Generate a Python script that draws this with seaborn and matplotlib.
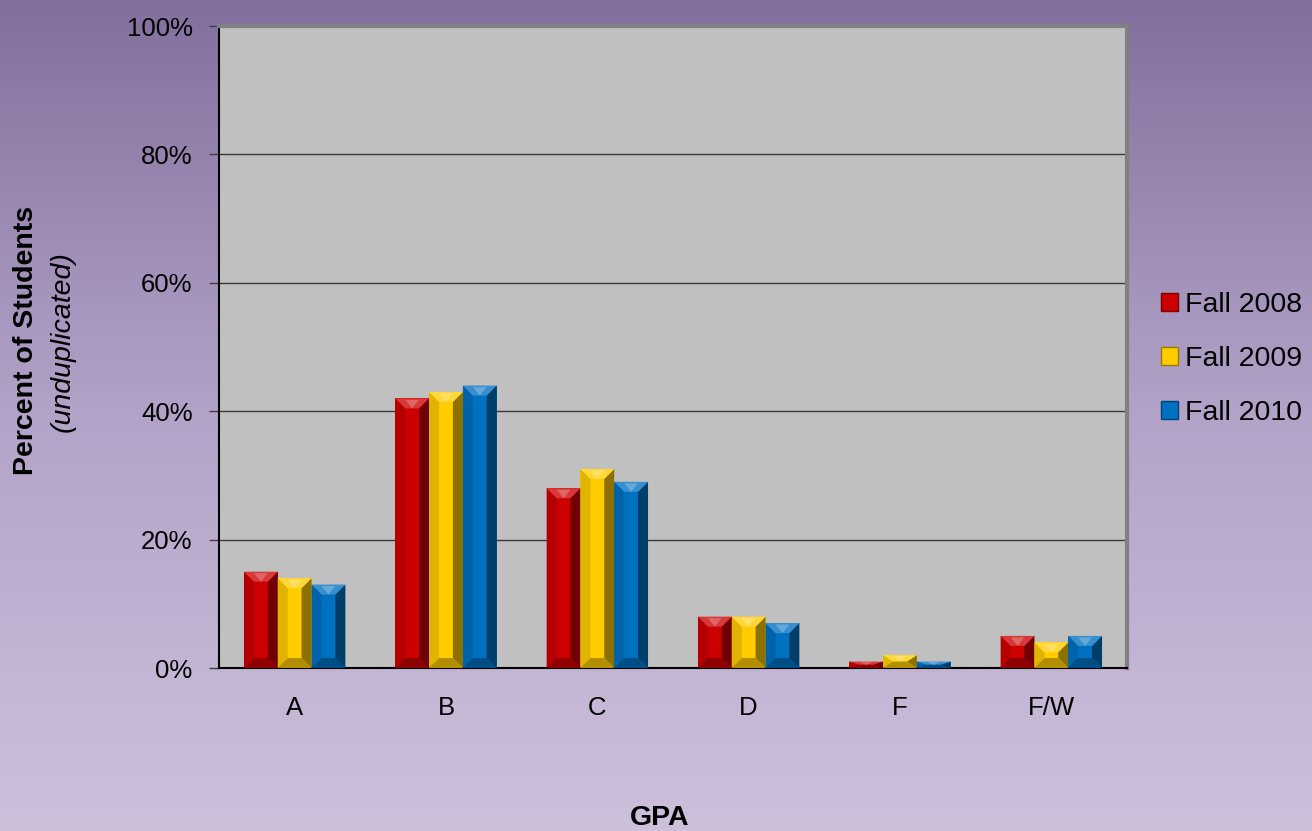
import numpy as np
import pandas as pd
import seaborn as sns
import matplotlib.pyplot as plt
from matplotlib.patches import Polygon, Patch
from matplotlib.colors import LinearSegmentedColormap, to_rgb

# data
grades = ['A', 'B', 'C', 'D', 'F', 'F/W']
terms = ['Fall 2008', 'Fall 2009', 'Fall 2010']
fall_2008 = [15, 42, 28, 8, 1, 5]
fall_2009 = [14, 43, 31, 8, 2, 4]
fall_2010 = [13, 44, 29, 7, 1, 5]
colors = ['#cc0000', '#ffcc00', '#0070c0']

df = pd.DataFrame({
    'GPA': grades * 3,
    'Term': np.repeat(terms, len(grades)),
    'Percent': fall_2008 + fall_2009 + fall_2010,
})

sns.set_theme(style='white')
plt.rcParams['font.family'] = ['Liberation Sans', 'DejaVu Sans']
plt.rcParams['text.color'] = 'black'
plt.rcParams['xtick.labelcolor'] = 'black'
plt.rcParams['ytick.labelcolor'] = 'black'

W, H = 1312, 831
fig = plt.figure(figsize=(W / 100, H / 100), dpi=100)

# purple gradient background
bg = fig.add_axes([0, 0, 1, 1], zorder=-10)
grad = np.linspace(0, 1, 256).reshape(-1, 1)
cmap = LinearSegmentedColormap.from_list('bg', ['#836f9d', '#b3a3c8', '#cdc0db'])
bg.imshow(grad, aspect='auto', cmap=cmap, extent=[0, 1, 0, 1])
bg.axis('off')

ax = fig.add_axes([219 / W, 1 - 668 / H, (1127 - 219) / W, (668 - 26) / H])
ax.set_facecolor('#c0c0c0')
sns.barplot(data=df, x='GPA', y='Percent', hue='Term', palette=colors,
            width=0.67, saturation=1, ax=ax, legend=False, linewidth=0, zorder=2)
ax.set_xlim(-0.5, 5.5)
ax.set_ylim(0, 100)
ax.set_axisbelow(True)
ax.yaxis.grid(True, color='#3a3a3a', lw=1)
ax.set_yticks([0, 20, 40, 60, 80, 100])
ax.set_yticklabels([f'{v}%' for v in [0, 20, 40, 60, 80, 100]])
ax.tick_params(axis='y', left=True, length=7, width=1, color='#404040',
               labelsize=18.5, pad=12)
ax.tick_params(axis='x', bottom=False, length=0, labelsize=18.5, pad=20)
ax.set_xlabel('')
ax.set_ylabel('')
for s in ['left', 'bottom']:
    ax.spines[s].set_color('black')
    ax.spines[s].set_linewidth(1.5)
for s in ['top', 'right']:
    ax.spines[s].set_color('#808080')
    ax.spines[s].set_linewidth(3)


def mix(c, other, t):
    c = np.array(to_rgb(c))
    o = np.array(to_rgb(other))
    return tuple(c * (1 - t) + o * t)


# bevel effect on each bar, sized from the bar geometry
px_x = 6 / ((1127 - 219))  # data units per pixel along x
px_y = 100 / (668 - 26)
bevel = 10
for patch in ax.patches:
    x0 = patch.get_x()
    w = patch.get_width()
    h = patch.get_height()
    if h <= 0:
        continue
    x1 = x0 + w
    c = patch.get_facecolor()
    bx = bevel * px_x
    by = min(bevel * px_y, h / 2)
    top = Polygon([(x0, h), (x1, h), (x1 - bx, h - by), (x0 + bx, h - by)],
                  closed=True, fc=mix(c, 'white', 0.22), ec='none', zorder=3)
    tri = Polygon([(x0 + w * 0.3, h - 0.15 * by), (x1 - w * 0.3, h - 0.15 * by),
                   (x0 + w / 2, h - by)],
                  closed=True, fc=mix(c, 'white', 0.4), ec='none', zorder=3)
    bot = Polygon([(x0, 0), (x1, 0), (x1 - bx, by), (x0 + bx, by)],
                  closed=True, fc=mix(c, 'black', 0.3), ec='none', zorder=3)
    left = Polygon([(x0, 0), (x0 + bx, by), (x0 + bx, h - by), (x0, h)],
                   closed=True, fc=mix(c, 'black', 0.12), ec='none', zorder=3)
    right = Polygon([(x1, 0), (x1 - bx, by), (x1 - bx, h - by), (x1, h)],
                    closed=True, fc=mix(c, 'black', 0.45), ec='none', zorder=3)
    for p in [left, right, top, bot, tri]:
        ax.add_patch(p)

# axis titles
fig.text(26 / W, 1 - 340 / H, 'Percent of Students', rotation=90, fontsize=20.5,
         fontweight='bold', ha='center', va='center')
fig.text(63 / W, 1 - 342 / H, '(unduplicated)', rotation=90, fontsize=20.5,
         fontstyle='italic', ha='center', va='center')
fig.text(660 / W, 1 - 818 / H, 'GPA', fontsize=20.5, fontweight='bold',
         ha='center', va='center')

handles = [Patch(facecolor=c, edgecolor=mix(c, 'black', 0.4), lw=1) for c in colors]
ax.legend(handles, terms, loc='center left', bbox_to_anchor=(1161 / W, 1 - 359 / H),
          bbox_transform=fig.transFigure, frameon=False, fontsize=20.5,
          handlelength=0.6, handleheight=0.6, handletextpad=0.25,
          labelspacing=0.98, borderpad=0, borderaxespad=0)

fig.savefig('out.png', dpi=100)
